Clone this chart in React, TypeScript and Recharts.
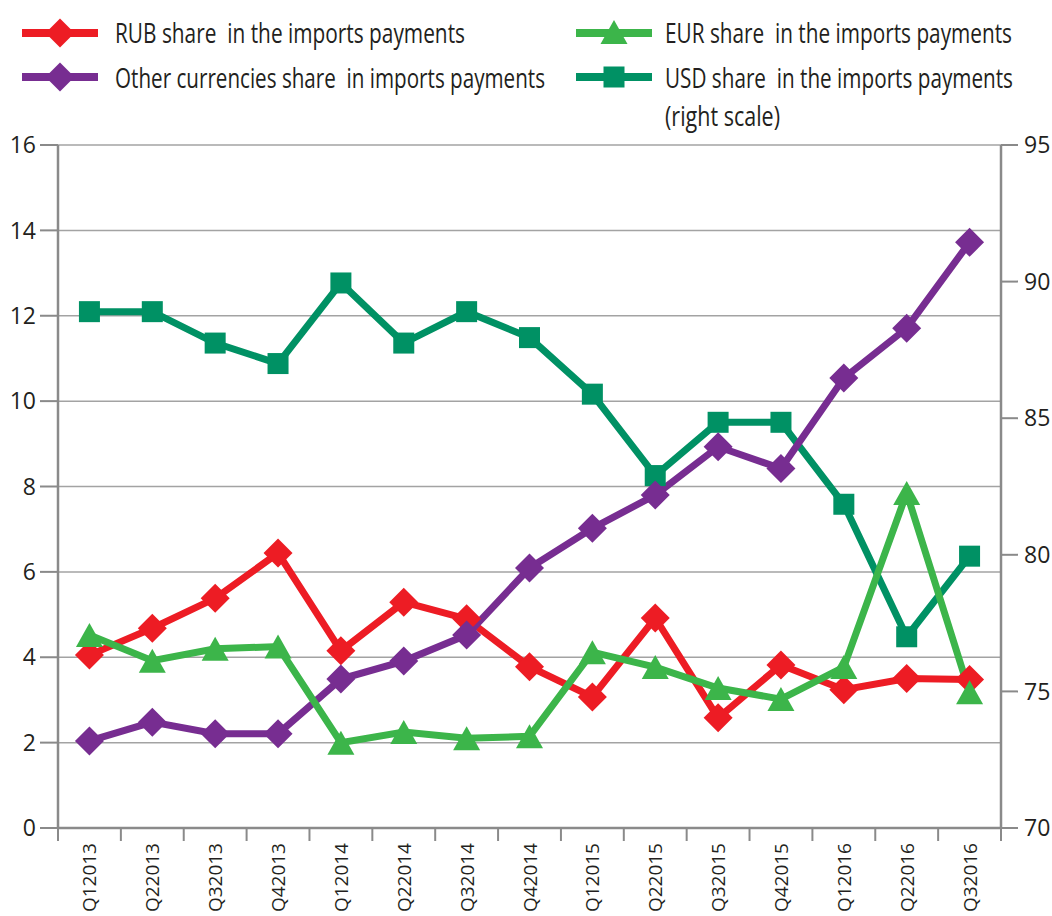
import React from 'react';
import { LineChart, Line, XAxis, YAxis, CartesianGrid } from 'recharts';

const quarters = ['Q12013', 'Q22013', 'Q32013', 'Q42013', 'Q12014', 'Q22014', 'Q32014', 'Q42014', 'Q12015', 'Q22015', 'Q32015', 'Q42015', 'Q12016', 'Q22016', 'Q32016'];
const rubShare = [4.05, 4.68, 5.38, 6.44, 4.15, 5.29, 4.9, 3.78, 3.07, 4.92, 2.58, 3.82, 3.24, 3.5, 3.48];
const eurShare = [4.52, 3.92, 4.2, 4.25, 2.0, 2.25, 2.1, 2.15, 4.12, 3.77, 3.28, 3.02, 3.77, 7.85, 3.18];
const otherShare = [2.04, 2.48, 2.21, 2.21, 3.49, 3.91, 4.52, 6.09, 7.02, 7.8, 8.93, 8.42, 10.54, 11.71, 13.72];
const usdShare = [88.9, 88.9, 87.75, 87.0, 89.95, 87.75, 88.9, 87.95, 85.88, 82.9, 84.85, 84.85, 81.85, 77.0, 79.95];

const leftTicks = [0, 2, 4, 6, 8, 10, 12, 14, 16];
const rightTicks = [70, 75, 80, 85, 90, 95];

const RED = '#ED1C24';
const PURPLE = '#772D91';
const GREEN = '#3CB54A';
const TEAL = '#009164';
const AXIS = '#8a8a8a';
const TEXT = '#231F20';
const FONT = '"Open Sans", "Noto Sans", sans-serif';

const data = quarters.map((q, i) => ({
  x: i + 0.5,
  q,
  rub: rubShare[i],
  eur: eurShare[i],
  other: otherShare[i],
  usd: usdShare[i],
}));

const xTicks = Array.from({ length: quarters.length * 2 + 1 }, (_, k) => k / 2);

const diamondPath = (cx: number, cy: number, r: number) =>
  `M${cx},${cy - r}L${cx + r},${cy}L${cx},${cy + r}L${cx - r},${cy}Z`;
const trianglePath = (cx: number, cy: number, w: number, h: number) =>
  `M${cx},${cy - h / 2}L${cx + w / 2},${cy + h / 2}L${cx - w / 2},${cy + h / 2}Z`;

const makeDiamond = (color: string) => (p: any) => (
  <path key={`d-${color}-${p.index}`} d={diamondPath(p.cx, p.cy, 14.5)} fill={color} />
);
const makeTriangle = (color: string) => (p: any) => (
  <path key={`t-${color}-${p.index}`} d={trianglePath(p.cx, p.cy, 27, 24)} fill={color} />
);
const makeSquare = (color: string) => (p: any) => (
  <rect key={`s-${color}-${p.index}`} x={p.cx - 10.5} y={p.cy - 10.5} width={21} height={21} fill={color} />
);

const XTick = (props: any) => {
  const { x, y, payload } = props;
  const v = payload.value;
  if (Number.isInteger(v)) {
    return <line x1={x} y1={y} x2={x} y2={y + 13} stroke={AXIS} strokeWidth={2} />;
  }
  const label = quarters[Math.round(v - 0.5)];
  return (
    <text
      x={x + 7}
      y={y + 15}
      transform={`rotate(-90, ${x + 7}, ${y + 15})`}
      textAnchor="end"
      fontFamily={FONT}
      fontSize={19}
      fill={TEXT}
    >
      {label}
    </text>
  );
};

const LegendIcon = ({ x, y, color, shape }: { x: number; y: number; color: string; shape: string }) => {
  const cx = x + 38;
  let marker = null;
  if (shape === 'diamond') marker = <path d={diamondPath(cx, y, 14.5)} fill={color} />;
  if (shape === 'triangle') marker = <path d={trianglePath(cx, y - 1, 27, 24)} fill={color} />;
  if (shape === 'square') marker = <rect x={cx - 10.5} y={y - 10.5} width={21} height={21} fill={color} />;
  return (
    <g>
      <line x1={x} y1={y} x2={x + 76} y2={y} stroke={color} strokeWidth={8} />
      {marker}
    </g>
  );
};

// Condensed look: smaller font stretched vertically, width fixed by textLength
const LegendText = ({ x, y, w, children }: { x: number; y: number; w: number; children: string }) => (
  <text
    x={0}
    y={0}
    transform={`translate(${x}, ${y}) scale(1, 1.26)`}
    textLength={w}
    lengthAdjust="spacingAndGlyphs"
    fontFamily={FONT}
    fontSize={21.5}
    fill={TEXT}
    style={{ whiteSpace: 'pre' }}
  >
    {children}
  </text>
);

export default function App() {
  return (
    <div style={{ position: 'absolute', left: 0, top: 0, width: 1052, height: 916, background: '#fff' }}>
      <LineChart
        width={1052}
        height={916}
        data={data}
        margin={{ top: 145, right: 0, bottom: 0, left: 0 }}
      >
        <CartesianGrid yAxisId="left" vertical={false} stroke="#a3a3a3" strokeWidth={1.5} />
        <XAxis
          dataKey="x"
          type="number"
          domain={[0, quarters.length]}
          ticks={xTicks}
          interval={0}
          tickLine={false}
          tickSize={0}
          tickMargin={0}
          height={88}
          axisLine={{ stroke: AXIS, strokeWidth: 2.5 }}
          tick={<XTick />}
          allowDecimals
        />
        <YAxis
          yAxisId="left"
          domain={[0, 16]}
          ticks={leftTicks}
          interval={0}
          width={58}
          tickSize={18}
          tickMargin={4}
          axisLine={{ stroke: AXIS, strokeWidth: 2.5 }}
          tickLine={{ stroke: AXIS, strokeWidth: 2 }}
          tick={{ fill: TEXT, fontSize: 23, fontFamily: FONT }}
        />
        <YAxis
          yAxisId="right"
          orientation="right"
          domain={[70, 95]}
          ticks={rightTicks}
          interval={0}
          width={51}
          tickSize={17}
          tickMargin={6}
          axisLine={{ stroke: AXIS, strokeWidth: 2.5 }}
          tickLine={{ stroke: AXIS, strokeWidth: 2 }}
          tick={{ fill: TEXT, fontSize: 23, fontFamily: FONT }}
        />
        <Line yAxisId="right" dataKey="usd" stroke={TEAL} strokeWidth={7} dot={makeSquare(TEAL)} isAnimationActive={false} />
        <Line yAxisId="left" dataKey="rub" stroke={RED} strokeWidth={7} dot={makeDiamond(RED)} isAnimationActive={false} />
        <Line yAxisId="left" dataKey="other" stroke={PURPLE} strokeWidth={7} dot={makeDiamond(PURPLE)} isAnimationActive={false} />
        <Line yAxisId="left" dataKey="eur" stroke={GREEN} strokeWidth={7} dot={makeTriangle(GREEN)} isAnimationActive={false} />
      </LineChart>
      <svg width={1052} height={140} style={{ position: 'absolute', left: 0, top: 0 }}>
        <LegendIcon x={22} y={33} color={RED} shape="diamond" />
        <LegendText x={115} y={43} w={350}>RUB share  in the imports payments</LegendText>
        <LegendIcon x={22} y={77} color={PURPLE} shape="diamond" />
        <LegendText x={115} y={88} w={430}>Other currencies share  in imports payments</LegendText>
        <LegendIcon x={576} y={33} color={GREEN} shape="triangle" />
        <LegendText x={665} y={43} w={347}>EUR share  in the imports payments</LegendText>
        <LegendIcon x={576} y={77} color={TEAL} shape="square" />
        <LegendText x={665} y={88} w={348}>USD share  in the imports payments</LegendText>
        <LegendText x={665} y={126} w={115}>(right scale)</LegendText>
      </svg>
    </div>
  );
}
